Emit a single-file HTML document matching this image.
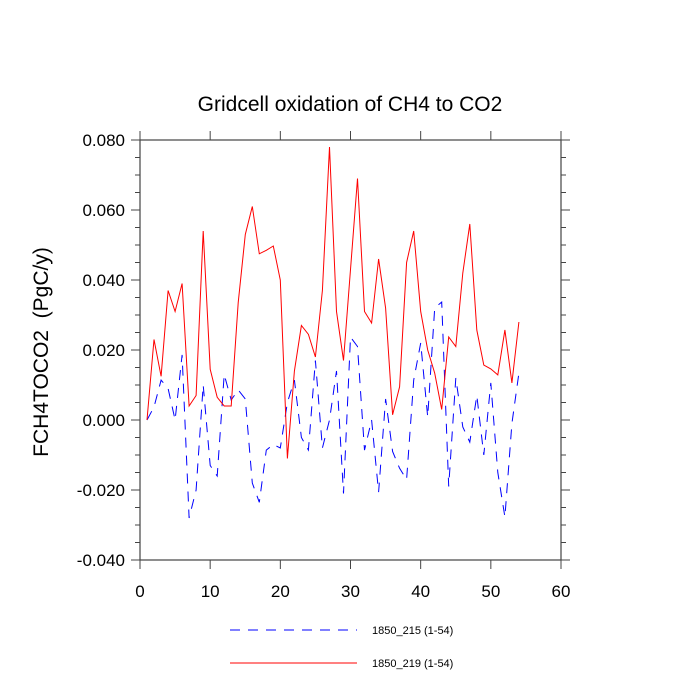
<!DOCTYPE html>
<html><head><meta charset="utf-8"><style>
body{margin:0;background:#fff;}
svg{display:block;font-family:"Liberation Sans",sans-serif;}
</style></head><body>
<svg id="chart" width="700" height="700" viewBox="0 0 700 700">
<text x="350" y="111" font-size="21" text-anchor="middle">Gridcell oxidation of CH4 to CO2</text>
<text transform="translate(48,352) rotate(-90)" font-size="21" text-anchor="middle">FCH4TOCO2&#160; (PgC/y)</text>
<g id="axes"></g>
<g id="series"></g>
<g>
<line x1="230" y1="630" x2="357" y2="630" stroke="#0000ff" stroke-width="1" stroke-dasharray="10,8"/>
<text x="372" y="634" font-size="11">1850_215 (1-54)</text>
<line x1="230" y1="663" x2="357" y2="663" stroke="#ff0000" stroke-width="1"/>
<text x="372" y="667" font-size="11">1850_219 (1-54)</text>
</g>
</svg>
<script>
const xTicks=[0,10,20,30,40,50,60];
const yTicks=[-0.04,-0.02,0,0.02,0.04,0.06,0.08];
const yTickLabels=["-0.040","-0.020","0.000","0.020","0.040","0.060","0.080"];
const red219=[0,0.023,0.0125,0.037,0.031,0.039,0.004,0.007,0.054,0.0145,0.0065,0.004,0.004,0.0335,0.053,0.061,0.0475,0.0485,0.0497,0.040,-0.011,0.014,0.027,0.0245,0.018,0.037,0.078,0.031,0.017,0.043,0.069,0.031,0.0277,0.046,0.032,0.0015,0.0095,0.045,0.054,0.031,0.020,0.0134,0.003,0.0237,0.021,0.042,0.056,0.0257,0.0157,0.0146,0.0129,0.0257,0.0106,0.028];
const blue215=[0,0.0037,0.0114,0.009,0,0.0186,-0.028,-0.020,0.010,-0.013,-0.016,0.013,0.0057,0.0086,0.006,-0.018,-0.0235,-0.0086,-0.007,-0.008,0.005,0.0114,-0.005,-0.0086,0.017,-0.008,0,0.014,-0.021,0.0237,0.021,-0.0086,0,-0.0206,0.006,-0.009,-0.0138,-0.017,0.0114,0.022,0.0009,0.032,0.0337,-0.019,0.012,-0.002,-0.0063,0.007,-0.010,0.0106,-0.015,-0.0277,-0.001,0.0134];
const X0=140,X1=561,Y0=560,Y1=140;
const xs=v=>X0+(v-0)/60*(X1-X0);
const ys=v=>Y0-(v+0.04)/0.12*(Y0-Y1);
const NS="http://www.w3.org/2000/svg";
const axes=document.getElementById('axes'),series=document.getElementById('series');
function mk(tag,attrs,parent){const e=document.createElementNS(NS,tag);for(const k in attrs)e.setAttribute(k,attrs[k]);parent.appendChild(e);return e;}
const frame=mk('rect',{x:X0,y:Y1,width:X1-X0,height:Y0-Y1,fill:'none',stroke:'#444','stroke-width':1.2},axes);


xTicks.forEach(t=>{const x=xs(t);
 mk('line',{x1:x,y1:Y0,x2:x,y2:Y0+9,stroke:'#444'},axes);
 mk('line',{x1:x,y1:Y1,x2:x,y2:Y1-9,stroke:'#444'},axes);
 const tx=mk('text',{x:x,y:Y0+37,'font-size':17,'text-anchor':'middle'},axes);tx.textContent=t;
 
 
});
for(let v=-0.04;v<=0.0801;v+=0.005){const y=ys(v);const major=Math.abs(Math.round(v*1000)%20)<0.5;const L=major?9:5;
 mk('line',{x1:X0,y1:y,x2:X0-L,y2:y,stroke:'#444'},axes);
 mk('line',{x1:X1,y1:y,x2:X1+L,y2:y,stroke:'#444'},axes);}
yTicks.forEach((t,i)=>{const tx=mk('text',{x:X0-15,y:ys(t)+6,'font-size':17,'text-anchor':'end'},axes);tx.textContent=yTickLabels[i];
 
 });
function pts(arr){return arr.map((v,i)=>xs(i+1).toFixed(1)+','+ys(v).toFixed(1)).join(' ');}
const b=mk('polyline',{points:pts(blue215),fill:'none',stroke:'#0000ff','stroke-width':1,'stroke-dasharray':'10,8'},series);


const r=mk('polyline',{points:pts(red219),fill:'none',stroke:'#ff0000','stroke-width':1},series);


</script>
</body></html>
